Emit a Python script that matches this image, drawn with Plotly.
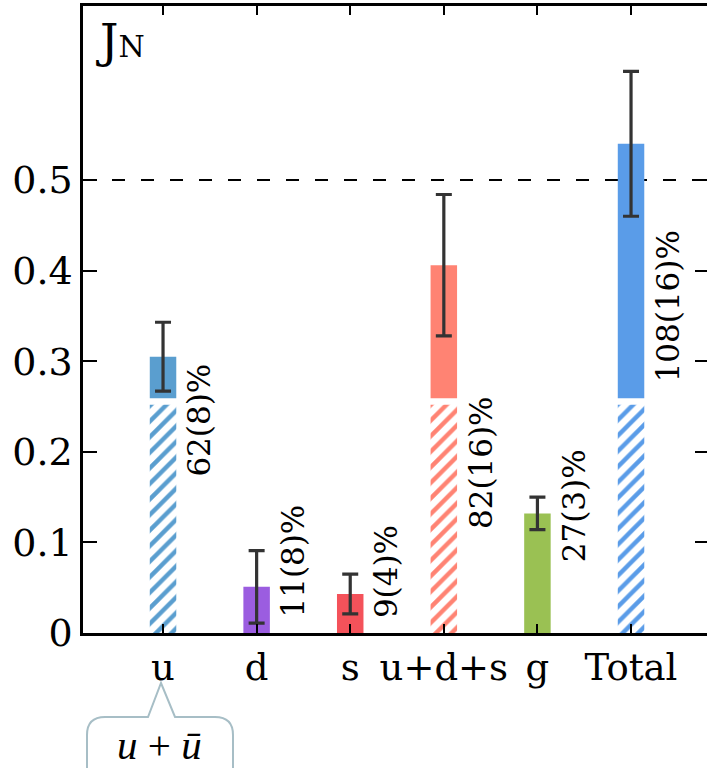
import plotly.graph_objects as go

# ---- data ----
categories = ["u", "d", "s", "u+d+s", "g", "Total"]
values = [0.305, 0.051, 0.043, 0.406, 0.132, 0.540]
errors = [0.038, 0.040, 0.022, 0.078, 0.018, 0.080]
hatched = [0.252, None, None, 0.252, None, 0.252]   # lower hatched part
percent_labels = ["62(8)%", "11(8)%", "9(4)%", "82(16)%", "27(3)%", "108(16)%"]
colors = ["#5A9ECF", "#9B5DE0", "#F4525A", "#FF8373", "#9AC153", "#5A9CE8"]
reference_line = 0.5
y_ticks = [0, 0.1, 0.2, 0.3, 0.4, 0.5]
y_ticktext = ["0", "0.1", "0.2", "0.3", "0.4", "0.5"]

# ---- style / layout constants ----
W, H = 707, 768
ML, MR, MT, MB = 83, 0, 6, 135
PW, PH = W - ML - MR, H - MT - MB
BAR_W = 0.283
GAP = 0.007
LABEL_DX = 0.39
label_center = [0.235, 0.079, 0.068, 0.188, 0.141, 0.360]
FONT = "DejaVu Serif"

xs = list(range(len(categories)))

fig = go.Figure()

# hatched lower parts
hx = [x for x, h in zip(xs, hatched) if h is not None]
hy = [h for h in hatched if h is not None]
hc = [c for c, h in zip(colors, hatched) if h is not None]
fig.add_trace(go.Bar(
    x=hx, y=hy, base=[0] * len(hx), width=BAR_W,
    marker=dict(color=hc, line=dict(width=0),
                pattern=dict(shape="/", fgcolor="white", bgcolor=hc,
                             size=11, solidity=0.4, fillmode="replace")),
    hoverinfo="skip", showlegend=False))

# solid upper parts
bases = [(h + GAP) if h is not None else 0 for h in hatched]
fig.add_trace(go.Bar(
    x=xs, y=[v - b for v, b in zip(values, bases)], base=bases, width=BAR_W,
    marker=dict(color=colors, line=dict(width=0)),
    hoverinfo="skip", showlegend=False))

# error bars
fig.add_trace(go.Scatter(
    x=xs, y=values, mode="markers", marker=dict(size=1, opacity=0),
    error_y=dict(type="data", array=errors, visible=True,
                 color="#333333", thickness=3.2, width=8),
    hoverinfo="skip", showlegend=False))

# dummy trace for right-side ticks
fig.add_trace(go.Scatter(x=[None], y=[None], yaxis="y2", mode="markers",
                         showlegend=False, hoverinfo="skip"))

# percent labels
for x, t, yc in zip(xs, percent_labels, label_center):
    fig.add_annotation(x=x + LABEL_DX, y=yc, xref="x", yref="y", text=t,
                       textangle=-90, showarrow=False,
                       xanchor="center", yanchor="middle",
                       font=dict(family=FONT, size=31, color="black"))

# reference dashed line
fig.add_shape(type="line", xref="paper", x0=0, x1=1, yref="y",
              y0=reference_line, y1=reference_line, layer="below",
              line=dict(color="black", width=2, dash="13px,16px"))

# J_N label
fig.add_annotation(xref="paper", yref="paper", x=(94 - ML) / PW,
                   y=1 - (12 - MT) / PH, xanchor="left", yanchor="top",
                   text="J<span style='font-size:30px'>N</span>",
                   showarrow=False,
                   font=dict(family=FONT, size=46, color="black"))

# callout box under "u"
def px(xp):
    return (xp - ML) / PW

def py(yp):
    return (H - MB - yp) / PH

L, R, T, B, r = 87, 233, 717, 800, 18
pts = (f"M {px(L + r)},{py(T)} L {px(148)},{py(T)} L {px(161)},{py(683)} "
       f"L {px(175)},{py(T)} L {px(R - r)},{py(T)} "
       f"Q {px(R)},{py(T)} {px(R)},{py(T + r)} L {px(R)},{py(B)} "
       f"L {px(L)},{py(B)} L {px(L)},{py(T + r)} "
       f"Q {px(L)},{py(T)} {px(L + r)},{py(T)} Z")
fig.add_shape(type="path", xref="paper", yref="paper", path=pts,
              line=dict(color="#A7BEC6", width=2), fillcolor="white")
fig.add_annotation(xref="paper", yref="paper", x=px(159), y=py(745),
                   xanchor="center", yanchor="middle", showarrow=False,
                   text="<i>u</i> + <i>ū</i>",
                   font=dict(family="Liberation Serif", size=41, color="black"))

fig.update_layout(
    width=W, height=H,
    margin=dict(l=ML, r=MR, t=MT, b=MB),
    paper_bgcolor="white", plot_bgcolor="white",
    barmode="overlay", showlegend=False,
    xaxis=dict(range=[-0.855, (W - ML) / 93.6 - 0.855],
               tickvals=xs, ticktext=categories,
               ticks="inside", ticklen=9, tickwidth=1.5, tickcolor="black",
               showline=True, linecolor="black", linewidth=2.5, mirror="ticks",
               showgrid=False, zeroline=False, ticklabelstandoff=0,
               tickfont=dict(family=FONT, size=37, color="black")),
    yaxis=dict(range=[0, (PH) / 906.0], tickvals=y_ticks, ticktext=y_ticktext,
               ticks="inside", ticklen=14, tickwidth=1.5, tickcolor="black",
               showline=True, linecolor="black", linewidth=2.5,
               showgrid=False, zeroline=False, ticklabelstandoff=0,
               tickfont=dict(family=FONT, size=38, color="black")),
    yaxis2=dict(range=[0, (PH) / 906.0], overlaying="y", side="right",
                tickvals=y_ticks, ticks="inside", ticklen=12, tickwidth=1.5,
                tickcolor="black", showticklabels=False, showline=False,
                showgrid=False, zeroline=False),
)

fig.write_html("out.html", config={"displayModeBar": False},
               post_script="document.body.style.margin='0px';"
                           "document.body.style.overflow='hidden';")
